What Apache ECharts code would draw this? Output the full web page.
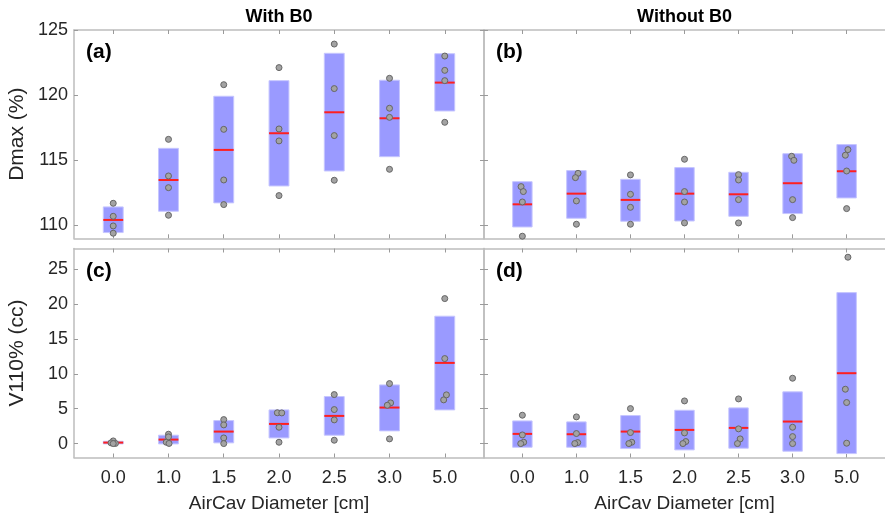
<!DOCTYPE html>
<html>
<head>
<meta charset="utf-8">
<script src="https://cdn.jsdelivr.net/npm/echarts@6/dist/echarts.min.js"></script>
<style>
html,body{margin:0;padding:0;background:#fff;}
#chart{width:885px;height:515px;}
</style>
</head>
<body>
<div id="chart"></div>
<script>
// ---- data ----
const categories = ['0.0', '1.0', '1.5', '2.0', '2.5', '3.0', '5.0'];
const columnTitles = ['With B0', 'Without B0'];
const panelLabels = ['(a)', '(b)', '(c)', '(d)'];
const xAxisTitle = 'AirCav Diameter [cm]';
const yAxisTitles = ['Dmax (%)', 'V110% (cc)'];
const dmaxTicks = [110, 115, 120, 125];
const volTicks = [0, 5, 10, 15, 20, 25];

// (a) Dmax with B0
const aBoxHigh = [111.41, 115.91, 119.91, 121.11, 123.21, 121.14, 123.18];
const aBoxLow = [109.44, 111.08, 111.72, 113.02, 114.17, 115.27, 118.78];
const aMedian = [110.41, 113.48, 115.79, 117.07, 118.68, 118.22, 120.96];
const aPoints = [[111.69, 110.69, 109.95, 109.39], [116.6, 113.79, 112.89, 110.77], [120.8, 117.37, 113.48, 111.59], [122.11, 117.4, 116.48, 112.28], [123.92, 120.5, 116.89, 113.46], [121.29, 118.99, 118.29, 114.3], [123.0, 121.9, 121.11, 117.91]];
const aJitter = [[0, 0, 0, 0], [0, 0, 0, 0], [0, 0, 0, 0], [0, 0, 0, 0], [0, 0, 0, 0], [0, 0, 0, 0], [0, 0, 0, 0]];

// (b) Dmax without B0
const bBoxHigh = [113.35, 114.2, 113.53, 114.43, 114.07, 115.5, 116.2];
const bBoxLow = [109.87, 110.54, 110.31, 110.33, 110.69, 110.9, 112.1];
const bMedian = [111.61, 112.43, 111.95, 112.43, 112.38, 113.23, 114.15];
const bPoints = [[112.97, 112.59, 111.79, 109.16], [113.99, 113.66, 111.87, 110.08], [113.87, 112.38, 111.38, 110.08], [115.07, 112.59, 111.79, 110.18], [113.89, 113.48, 111.97, 110.18], [115.3, 114.99, 111.97, 110.59], [115.81, 115.38, 114.17, 111.28]];
const bJitter = [[-0.024, 0.018, 0, 0], [0.03, -0.018, 0, 0], [0, 0, 0, 0], [0, 0, 0, 0], [0, 0, 0, 0], [-0.018, 0.024, 0, 0], [0.024, -0.024, 0, 0]];

// (c) V110% with B0
const cBoxHigh = [0.33, 1.2, 3.3, 4.83, 6.75, 8.42, 18.28];
const cBoxLow = [-0.05, -0.05, 0.1, 0.81, 1.2, 1.82, 4.83];
const cMedian = [0.14, 0.57, 1.72, 2.82, 3.97, 5.17, 11.58];
const cPoints = [[0.38, 0.1, 0.02, 0], [1.34, 0.96, 0.19, 0.02], [3.44, 2.68, 0.81, 0], [4.42, 4.4, 2.34, 0.19], [7.03, 4.88, 3.4, 0.48], [8.61, 5.84, 5.5, 0.67], [20.81, 12.2, 6.99, 6.27]];
const cJitter = [[0, -0.04, 0.04, 0], [0, 0, -0.04, 0.01], [0, 0, 0, 0], [-0.03, 0.05, 0, 0], [0, 0, 0, 0], [0, 0.02, -0.04, 0], [0, 0, 0.03, -0.02]];

// (d) V110% without B0
const dBoxHigh = [3.25, 3.11, 4.02, 4.78, 5.12, 7.42, 21.67];
const dBoxLow = [-0.53, -0.53, -0.72, -0.91, -0.67, -1.1, -1.44];
const dMedian = [1.39, 1.34, 1.72, 1.96, 2.25, 3.16, 10.1];
const dPoints = [[4.07, 1.24, 0.19, 0], [3.83, 1.44, 0.14, 0], [5.02, 1.58, 0.19, 0], [6.12, 1.53, 0.29, 0], [6.41, 2.11, 0.67, 0], [9.38, 2.34, 1.0, 0], [26.75, 7.8, 5.89, 0.05]];
const dJitter = [[0, 0, 0.024, -0.03], [0, 0, 0.024, -0.03], [0, 0, 0.024, -0.03], [0, 0, 0.024, -0.03], [0, 0, 0.03, -0.02], [0, 0, 0, 0], [0.024, -0.024, 0, 0]];

const dmaxRange = [109, 125];
const vRange = [-2, 28];

// ---- build ----
const panels = [
  {high: aBoxHigh, low: aBoxLow, med: aMedian, pts: aPoints, jit: aJitter, range: dmaxRange, ticks: dmaxTicks},
  {high: bBoxHigh, low: bBoxLow, med: bMedian, pts: bPoints, jit: bJitter, range: dmaxRange, ticks: dmaxTicks},
  {high: cBoxHigh, low: cBoxLow, med: cMedian, pts: cPoints, jit: cJitter, range: vRange, ticks: volTicks},
  {high: dBoxHigh, low: dBoxLow, med: dMedian, pts: dPoints, jit: dJitter, range: vRange, ticks: volTicks}
];

const FONT = "'Liberation Sans', Arial, sans-serif";
const AX = '#bdbdbd';
const TXT = '#262626';
const HALF = 0.18;
const XMIN = -0.71, XMAX = 6.71;
const catIdx = categories.map((c, i) => i);

const grids = [
  {left: 74, width: 410, top: 30, height: 208.3},
  {left: 484, width: 410, top: 30, height: 208.3},
  {left: 74, width: 410, top: 248.5, height: 209},
  {left: 484, width: 410, top: 248.5, height: 209}
];

const xAxes = [], yAxes = [], series = [], titles = [];

function catFmt(v) {
  const r = Math.round(v);
  if (Math.abs(v - r) > 1e-6 || r < 0 || r >= categories.length) return '';
  return categories[r];
}

panels.forEach((p, g) => {
  const isBottom = g >= 2, isLeft = g % 2 === 0;
  const lineStyle = {color: AX, width: 1.5};
  const xTick = {show: true, inside: true, length: 4, customValues: catIdx, lineStyle: {color: '#9a9a9a', width: 1}};
  const yTick = {show: true, inside: true, length: 4, customValues: p.ticks, lineStyle: {color: '#9a9a9a', width: 1}};
  // bottom x
  xAxes.push({
    type: 'value', gridIndex: g, position: 'bottom', min: XMIN, max: XMAX,
    axisLine: {show: true, onZero: false, lineStyle},
    axisTick: xTick, splitLine: {show: false},
    axisLabel: {show: isBottom, customValues: catIdx, formatter: catFmt, fontFamily: FONT, fontSize: 18, color: TXT, margin: 12},
    name: isBottom ? xAxisTitle : '', nameLocation: 'middle', nameGap: 37,
    nameTextStyle: {fontFamily: FONT, fontSize: 19, color: TXT}
  });
  // top x (frame + ticks + column title)
  xAxes.push({
    type: 'value', gridIndex: g, position: 'top', min: XMIN, max: XMAX,
    axisLine: {show: true, onZero: false, lineStyle},
    axisTick: xTick, splitLine: {show: false}, axisLabel: {show: false},
    name: isBottom ? '' : columnTitles[g], nameLocation: 'middle', nameGap: 4,
    nameTextStyle: {fontFamily: FONT, fontSize: 18, fontWeight: 'bold', color: '#000'}
  });
  yAxes.push({
    type: 'value', gridIndex: g, position: 'left', min: p.range[0], max: p.range[1],
    axisLine: {show: true, onZero: false, lineStyle},
    axisTick: yTick, splitLine: {show: false},
    axisLabel: {show: isLeft, customValues: p.ticks, fontFamily: FONT, fontSize: 18, color: TXT, margin: 6},
    name: isLeft ? yAxisTitles[g >> 1] : '', nameLocation: 'middle', nameGap: 46,
    nameTextStyle: {fontFamily: FONT, fontSize: 21, color: TXT}
  });
  const yIdx = yAxes.length - 1;
  if (isLeft) {
    yAxes.push({
      type: 'value', gridIndex: g, position: 'right', min: p.range[0], max: p.range[1],
      axisLine: {show: true, onZero: false, lineStyle},
      axisTick: yTick, splitLine: {show: false}, axisLabel: {show: false}
    });
  }
  const xIdx = g * 2;

  const boxData = categories.map((c, i) => [i, p.low[i], p.high[i], p.med[i]]);
  series.push({
    type: 'custom', xAxisIndex: xIdx, yAxisIndex: yIdx, z: 2,
    encode: {x: 0, y: [1, 2]},
    data: boxData,
    renderItem: function (params, api) {
      const i = api.value(0), lo = api.value(1), hi = api.value(2), md = api.value(3);
      const p1 = api.coord([i - HALF, hi]);
      const p2 = api.coord([i + HALF, lo]);
      const m1 = api.coord([i - HALF, md]);
      const m2 = api.coord([i + HALF, md]);
      return {
        type: 'group',
        children: [
          {type: 'rect', shape: {x: p1[0], y: p1[1], width: p2[0] - p1[0], height: p2[1] - p1[1]},
           style: {fill: '#9a9aff', stroke: '#c6c6ff', lineWidth: 1}},
          {type: 'line', shape: {x1: m1[0], y1: m1[1], x2: m2[0], y2: m2[1]},
           style: {stroke: '#ff1f1f', lineWidth: 2}}
        ]
      };
    }
  });
  const ptData = [];
  p.pts.forEach((arr, i) => arr.forEach((v, k) => ptData.push([i + p.jit[i][k], v])));
  series.push({
    type: 'scatter', xAxisIndex: xIdx, yAxisIndex: yIdx, z: 3,
    symbol: 'circle', symbolSize: 6,
    itemStyle: {color: '#a3a3a3', borderColor: '#666', borderWidth: 1, opacity: 1},
    data: ptData, silent: true
  });

  titles.push({
    text: panelLabels[g], left: grids[g].left + 12, top: grids[g].top + 12, padding: 0,
    textStyle: {fontFamily: FONT, fontSize: 21, fontWeight: 'bold', color: '#000'}
  });
});

const chart = echarts.init(document.getElementById('chart'), null, {renderer: 'canvas'});
chart.setOption({
  animation: false,
  backgroundColor: '#fff',
  title: titles,
  grid: grids,
  xAxis: xAxes,
  yAxis: yAxes,
  series: series
});
</script>
</body>
</html>
